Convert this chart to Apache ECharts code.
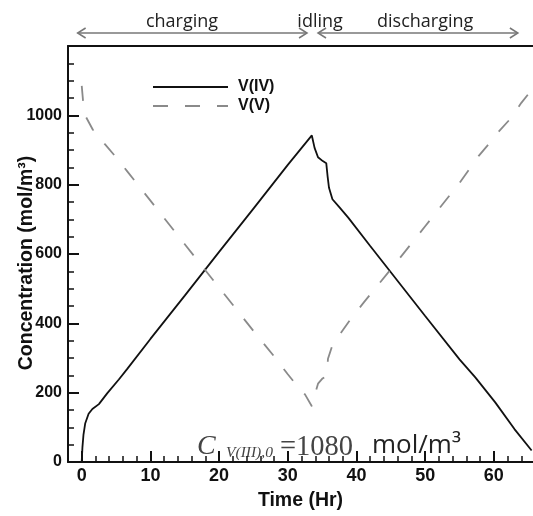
<!DOCTYPE html>
<html><head><meta charset="utf-8">
<script src="https://cdn.jsdelivr.net/npm/echarts@6/dist/echarts.min.js"></script>
<style>html,body{margin:0;padding:0;background:#fff}#c{width:533px;height:516px}</style>
</head><body><div id="c"></div>
<script>
// ---- data ----
const seriesNames = ['V(IV)', 'V(V)'];
const timeIV = [0, 0.1, 0.25, 0.5, 1.0, 1.55, 2.5, 3.7, 5.4, 6.6, 10, 15, 20, 25, 30, 33.5, 33.9, 34.4, 35.1, 35.6, 35.8, 36.0, 36.5, 37.5, 38.8, 42, 46.2, 50, 55, 57.3, 60.2, 63, 65.5];
const concIV = [3, 42, 78, 111, 139, 153, 167, 198, 238, 268, 355, 480, 606, 731, 857, 942, 906, 879, 868, 862, 823, 791, 758, 735, 705, 623, 517, 421, 296, 244, 172, 95, 33];
const timeV = [0, 0.2, 0.6, 1.6, 3.4, 5.0, 6.6, 10, 15, 20, 25, 28, 30, 31.2, 32.5, 33.5, 33.8, 34.4, 35.0, 35.3, 35.7, 35.85, 36.5, 38.0, 39.4, 41.1, 42.7, 45.9, 50, 55, 57.8, 59.0, 60.7, 62.4, 64.0, 65.5];
const concV = [1085, 1040, 996, 959, 916, 879, 839, 754, 628, 503, 378, 305, 253, 224, 195, 161, 184, 226, 240, 244, 251, 298, 337, 380, 419, 461, 500, 578, 680, 805, 883, 911, 953, 990, 1036, 1073];
const xTickLabels = [0, 10, 20, 30, 40, 50, 60];
const yTickLabels = [0, 200, 400, 600, 800, 1000];
const phaseNames = ['charging', 'idling', 'discharging'];
const phaseLabelTimes = [14.6, 34.7, 50];
const arrowStarts = [-0.6, 34.4];
const arrowEnds = [32.8, 63.5];
const xTitle = 'Time (Hr)';
const yTitle = 'Concentration (mol/m³)';
const noteParts = ['C', 'V(III),0', '=1080', 'mol/m³'];

const X_MIN = -2, X_MAX = 65.7, Y_MIN = 0, Y_MAX = 1200;
const minorX = [];
for (let v = X_MIN + 2; v < X_MAX; v += 2) if (xTickLabels.indexOf(v) < 0) minorX.push(v);

const chart = echarts.init(document.getElementById('c'));
const axisCommon = { type: 'value', min: X_MIN, max: X_MAX, splitLine: { show: false } };
chart.setOption({
  animation: false,
  backgroundColor: '#fff',
  grid: { left: 68, right: 0, top: 46, bottom: 38 },
  legend: {
    orient: 'vertical', left: 147, top: 74, itemWidth: 75, itemHeight: 12, itemGap: 3,
    itemStyle: { opacity: 0, color: 'transparent', borderWidth: 0 },
    textStyle: { fontFamily: 'Liberation Sans', fontWeight: 'bold', fontSize: 16, color: '#111', padding: [0, 0, 0, 5] },
    data: seriesNames
  },
  xAxis: [
    Object.assign({}, axisCommon, {
      position: 'bottom',
      name: xTitle, nameLocation: 'middle', nameGap: 29,
      nameTextStyle: { fontFamily: 'Liberation Sans', fontWeight: 'bold', fontSize: 19.5, color: '#111' },
      axisLine: { show: true, onZero: false, lineStyle: { color: '#111', width: 2 } },
      axisTick: { show: true, inside: true, length: 11, customValues: xTickLabels, lineStyle: { color: '#111', width: 2 } },
      axisLabel: { show: true, customValues: xTickLabels, margin: 5, fontFamily: 'Liberation Sans', fontWeight: 'bold', fontSize: 18, color: '#111' }
    }),
    Object.assign({}, axisCommon, {
      position: 'bottom',
      axisLine: { show: false },
      axisTick: { show: true, inside: true, length: 6, customValues: minorX, lineStyle: { color: '#111', width: 1.5 } },
      axisLabel: { show: false }
    }),
    Object.assign({}, axisCommon, {
      position: 'top',
      axisLine: { show: true, onZero: false, lineStyle: { color: '#111', width: 2 } },
      axisTick: { show: false }, axisLabel: { show: false }
    })
  ],
  yAxis: {
    type: 'value', min: Y_MIN, max: Y_MAX, interval: 200,
    splitLine: { show: false },
    axisLine: { show: true, onZero: false, lineStyle: { color: '#111', width: 2 } },
    axisTick: { show: true, inside: true, length: 11, lineStyle: { color: '#111', width: 2 } },
    minorTick: { show: true, splitNumber: 4, length: 6, lineStyle: { color: '#111', width: 1.5 } },
    axisLabel: {
      margin: 6, fontFamily: 'Liberation Sans', fontWeight: 'bold', fontSize: 16, color: '#111',
      formatter: v => (yTickLabels.indexOf(v) >= 0 ? String(v) : '')
    }
  },
  series: [
    {
      name: seriesNames[0], type: 'line', xAxisIndex: 0, symbol: 'none', showSymbol: false,
      lineStyle: { color: '#111', width: 1.8 }, itemStyle: { color: '#111' },
      data: timeIV.map((t, i) => [t, concIV[i]])
    },
    {
      name: seriesNames[1], type: 'line', xAxisIndex: 0, symbol: 'none', showSymbol: false,
      lineStyle: { color: '#8a8a8a', width: 1.8, type: [15, 17] }, itemStyle: { color: '#8a8a8a' },
      data: timeV.map((t, i) => [t, concV[i]])
    }
  ]
});

function px(t) { return chart.convertToPixel({ xAxisIndex: 0 }, t); }
const ARROW_Y = 33;
const arrowColor = '#777';
const g = [];
for (let i = 0; i < arrowStarts.length; i++) {
  const a = px(arrowStarts[i]), b = px(arrowEnds[i]);
  g.push({ type: 'line', shape: { x1: a, y1: ARROW_Y, x2: b, y2: ARROW_Y }, style: { stroke: arrowColor, lineWidth: 1.5 } });
  g.push({ type: 'polyline', shape: { points: [[a + 8, ARROW_Y - 5], [a, ARROW_Y], [a + 8, ARROW_Y + 5]] }, style: { stroke: arrowColor, lineWidth: 1.5, fill: null } });
  g.push({ type: 'polyline', shape: { points: [[b - 8, ARROW_Y - 5], [b, ARROW_Y], [b - 8, ARROW_Y + 5]] }, style: { stroke: arrowColor, lineWidth: 1.5, fill: null } });
}
phaseNames.forEach((n, i) => {
  g.push({ type: 'text', x: px(phaseLabelTimes[i]), y: 22, style: { text: n, fontFamily: 'Open Sans', fontSize: 18, fill: '#222', align: 'center', verticalAlign: 'middle' } });
});
g.push({ type: 'text', x: 27, y: 263, rotation: Math.PI / 2, style: { text: yTitle, fontFamily: 'Liberation Sans', fontWeight: 'bold', fontSize: 19.5, fill: '#111', align: 'center', verticalAlign: 'middle' } });
// annotation C_{V(III),0} = 1080 mol/m³
const noteStyles = [
  { x: 197, y: 433, font: 'italic 28px "Liberation Serif"', fill: '#444' },
  { x: 226, y: 445, font: 'italic 15.5px "Liberation Serif"', fill: '#444' },
  { x: 280, y: 433, font: '28.5px "Liberation Serif"', fill: '#444' },
  { x: 372, y: 433, font: '26px "Open Sans"', fill: '#222' }
];
noteParts.forEach((t, i) => {
  const s = noteStyles[i];
  g.push({ type: 'text', x: s.x, y: s.y, style: { text: t, font: s.font, fill: s.fill, align: 'left', verticalAlign: 'top' } });
});
chart.setOption({ graphic: g });
</script>
</body></html>
